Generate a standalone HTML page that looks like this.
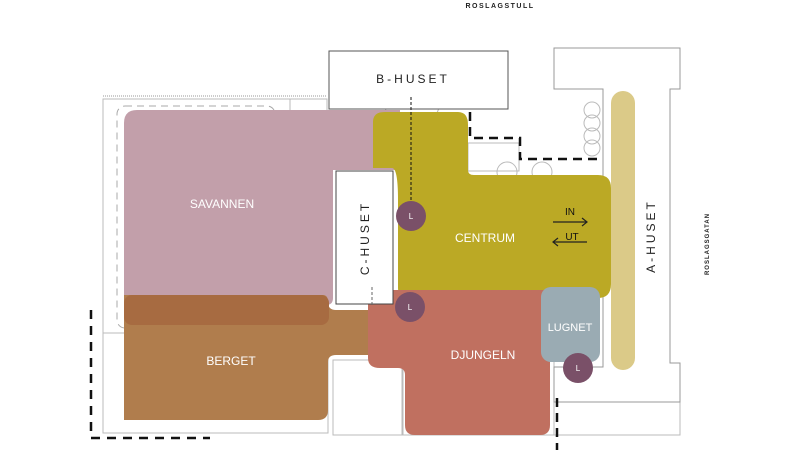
<!DOCTYPE html>
<html><head><meta charset="utf-8"><style>
html,body{margin:0;padding:0;background:#fff;}
svg{display:block;font-family:"Liberation Sans",sans-serif;}
</style></head><body>
<svg width="800" height="450" viewBox="0 0 800 450" xmlns="http://www.w3.org/2000/svg">
<!-- site outlines -->
<g fill="none" stroke="#bbb" stroke-width="1">
<rect x="103" y="99" width="224" height="234"/>
<line x1="103" y1="96" x2="327" y2="96" stroke="#ccc" stroke-width="2" stroke-dasharray="1,1"/>
<rect x="290" y="99" width="37" height="180"/>
<rect x="103" y="333" width="225" height="100"/>
<rect x="333" y="360" width="70" height="75"/>
<rect x="402" y="360" width="152" height="75"/>
<rect x="468" y="143" width="51" height="28"/>
<rect x="554" y="402" width="126" height="33"/>
<circle cx="412" cy="100" r="28"/>
<circle cx="592" cy="110" r="8"/><circle cx="592" cy="123" r="8"/><circle cx="592" cy="136" r="8"/><circle cx="592" cy="148" r="8"/>
<circle cx="507" cy="172" r="10"/><circle cx="542" cy="172" r="10"/>
<circle cx="600" cy="238" r="30"/>
</g>
<g fill="none" stroke="#aaa" stroke-dasharray="7,5">
<rect x="117" y="106" width="158" height="222" rx="8"/>
</g>
<polygon points="554,48 680,48 680,89 670,89 670,363 680,363 680,402 554,402 554,367 603,367 603,89 554,89" fill="#fff" stroke="#999"/>
<!-- Savannen -->
<path d="M137,110 H400 V170 H333 V298 Q333,305 326,305 H124 V123 Q124,110 137,110Z" fill="#c29faa"/>
<!-- Berget -->
<path d="M124,295 H323 Q328,295 328,302 Q328,310 336,310 H372 V355 H336 Q328,355 328,362 V410 Q328,420 318,420 H124Z" fill="#b07d4d"/>
<rect x="124" y="295" width="205" height="30" rx="8" fill="#a76b41"/>
<!-- Centrum -->
<path d="M385,112 H458 Q468,112 468,125 V170 Q468,175 474,175 H598 Q611,175 611,188 V284 Q611,298 598,298 H408 Q398,298 398,288 V200 Q398,168 392,168 H373 V122 Q373,112 385,112Z" fill="#bba925"/>
<!-- Djungeln -->
<path d="M378,290 H550 V425 Q550,435 540,435 H415 Q405,435 405,425 V375 Q405,368 398,368 H380 Q368,368 368,358 V300 Q368,290 378,290Z" fill="#c07060"/>
<!-- Lugnet -->
<rect x="541" y="287" width="59" height="75" rx="10" fill="#9aabb3"/>
<!-- A-huset bar -->
<rect x="611" y="91" width="24" height="279" rx="12" fill="#dbca88"/>
<!-- boxes -->
<rect x="329" y="51" width="179" height="58" fill="#fff" stroke="#555"/>
<rect x="336" y="171" width="57" height="133" fill="#fff" stroke="#444"/>
<!-- dashed black lines -->
<g fill="none" stroke="#111">
<line x1="411" y1="97" x2="411" y2="200" stroke-dasharray="3,2"/>
<line x1="372" y1="287" x2="372" y2="305" stroke-dasharray="3,2" stroke="#666"/>
<polyline points="470,112 470,138 520,138 520,159 600,159" stroke-width="2.5" stroke-dasharray="9,6"/>
<polyline points="91,310 91,438 210,438" stroke-width="2.5" stroke-dasharray="9,7"/>
<line x1="557" y1="398" x2="557" y2="450" stroke-width="2.5" stroke-dasharray="9,6"/>
</g>
<!-- arrows -->
<g stroke="#222" fill="none" stroke-width="1.2">
<line x1="553" y1="222" x2="587" y2="222"/><polyline points="582,218 587,222 582,226"/>
<line x1="553" y1="242" x2="587" y2="242"/><polyline points="558,238 553,242 558,246"/>
</g>
<text x="570" y="215" font-size="10" text-anchor="middle" fill="#111">IN</text>
<text x="572" y="240" font-size="10" text-anchor="middle" fill="#111">UT</text>
<!-- L circles -->
<g fill="#7a5068"><circle cx="411" cy="216" r="15"/><circle cx="410" cy="307" r="15"/><circle cx="578" cy="368" r="15"/></g>
<g fill="#fff" font-size="8" text-anchor="middle"><text x="411" y="219">L</text><text x="410" y="310">L</text><text x="578" y="371">L</text></g>
<!-- labels -->
<g fill="#fff" font-size="12" text-anchor="middle">
<text x="222" y="208">SAVANNEN</text>
<text x="231" y="365">BERGET</text>
<text x="485" y="242">CENTRUM</text>
<text x="483" y="359">DJUNGELN</text>
<text x="570" y="331" font-size="11">LUGNET</text>
</g>
<g fill="#222" font-size="12" letter-spacing="3">
<text x="413" y="83" text-anchor="middle">B-HUSET</text>
<text transform="translate(369,238) rotate(-90)" text-anchor="middle">C-HUSET</text>
<text transform="translate(655,236) rotate(-90)" text-anchor="middle">A-HUSET</text>
</g>
<text x="500" y="8" font-size="7" font-weight="bold" letter-spacing="1.5" text-anchor="middle" fill="#222">ROSLAGSTULL</text>
<text transform="translate(709,244) rotate(-90)" font-size="6" font-weight="bold" letter-spacing="1" text-anchor="middle" fill="#222">ROSLAGSGATAN</text>
</svg>
</body></html>
